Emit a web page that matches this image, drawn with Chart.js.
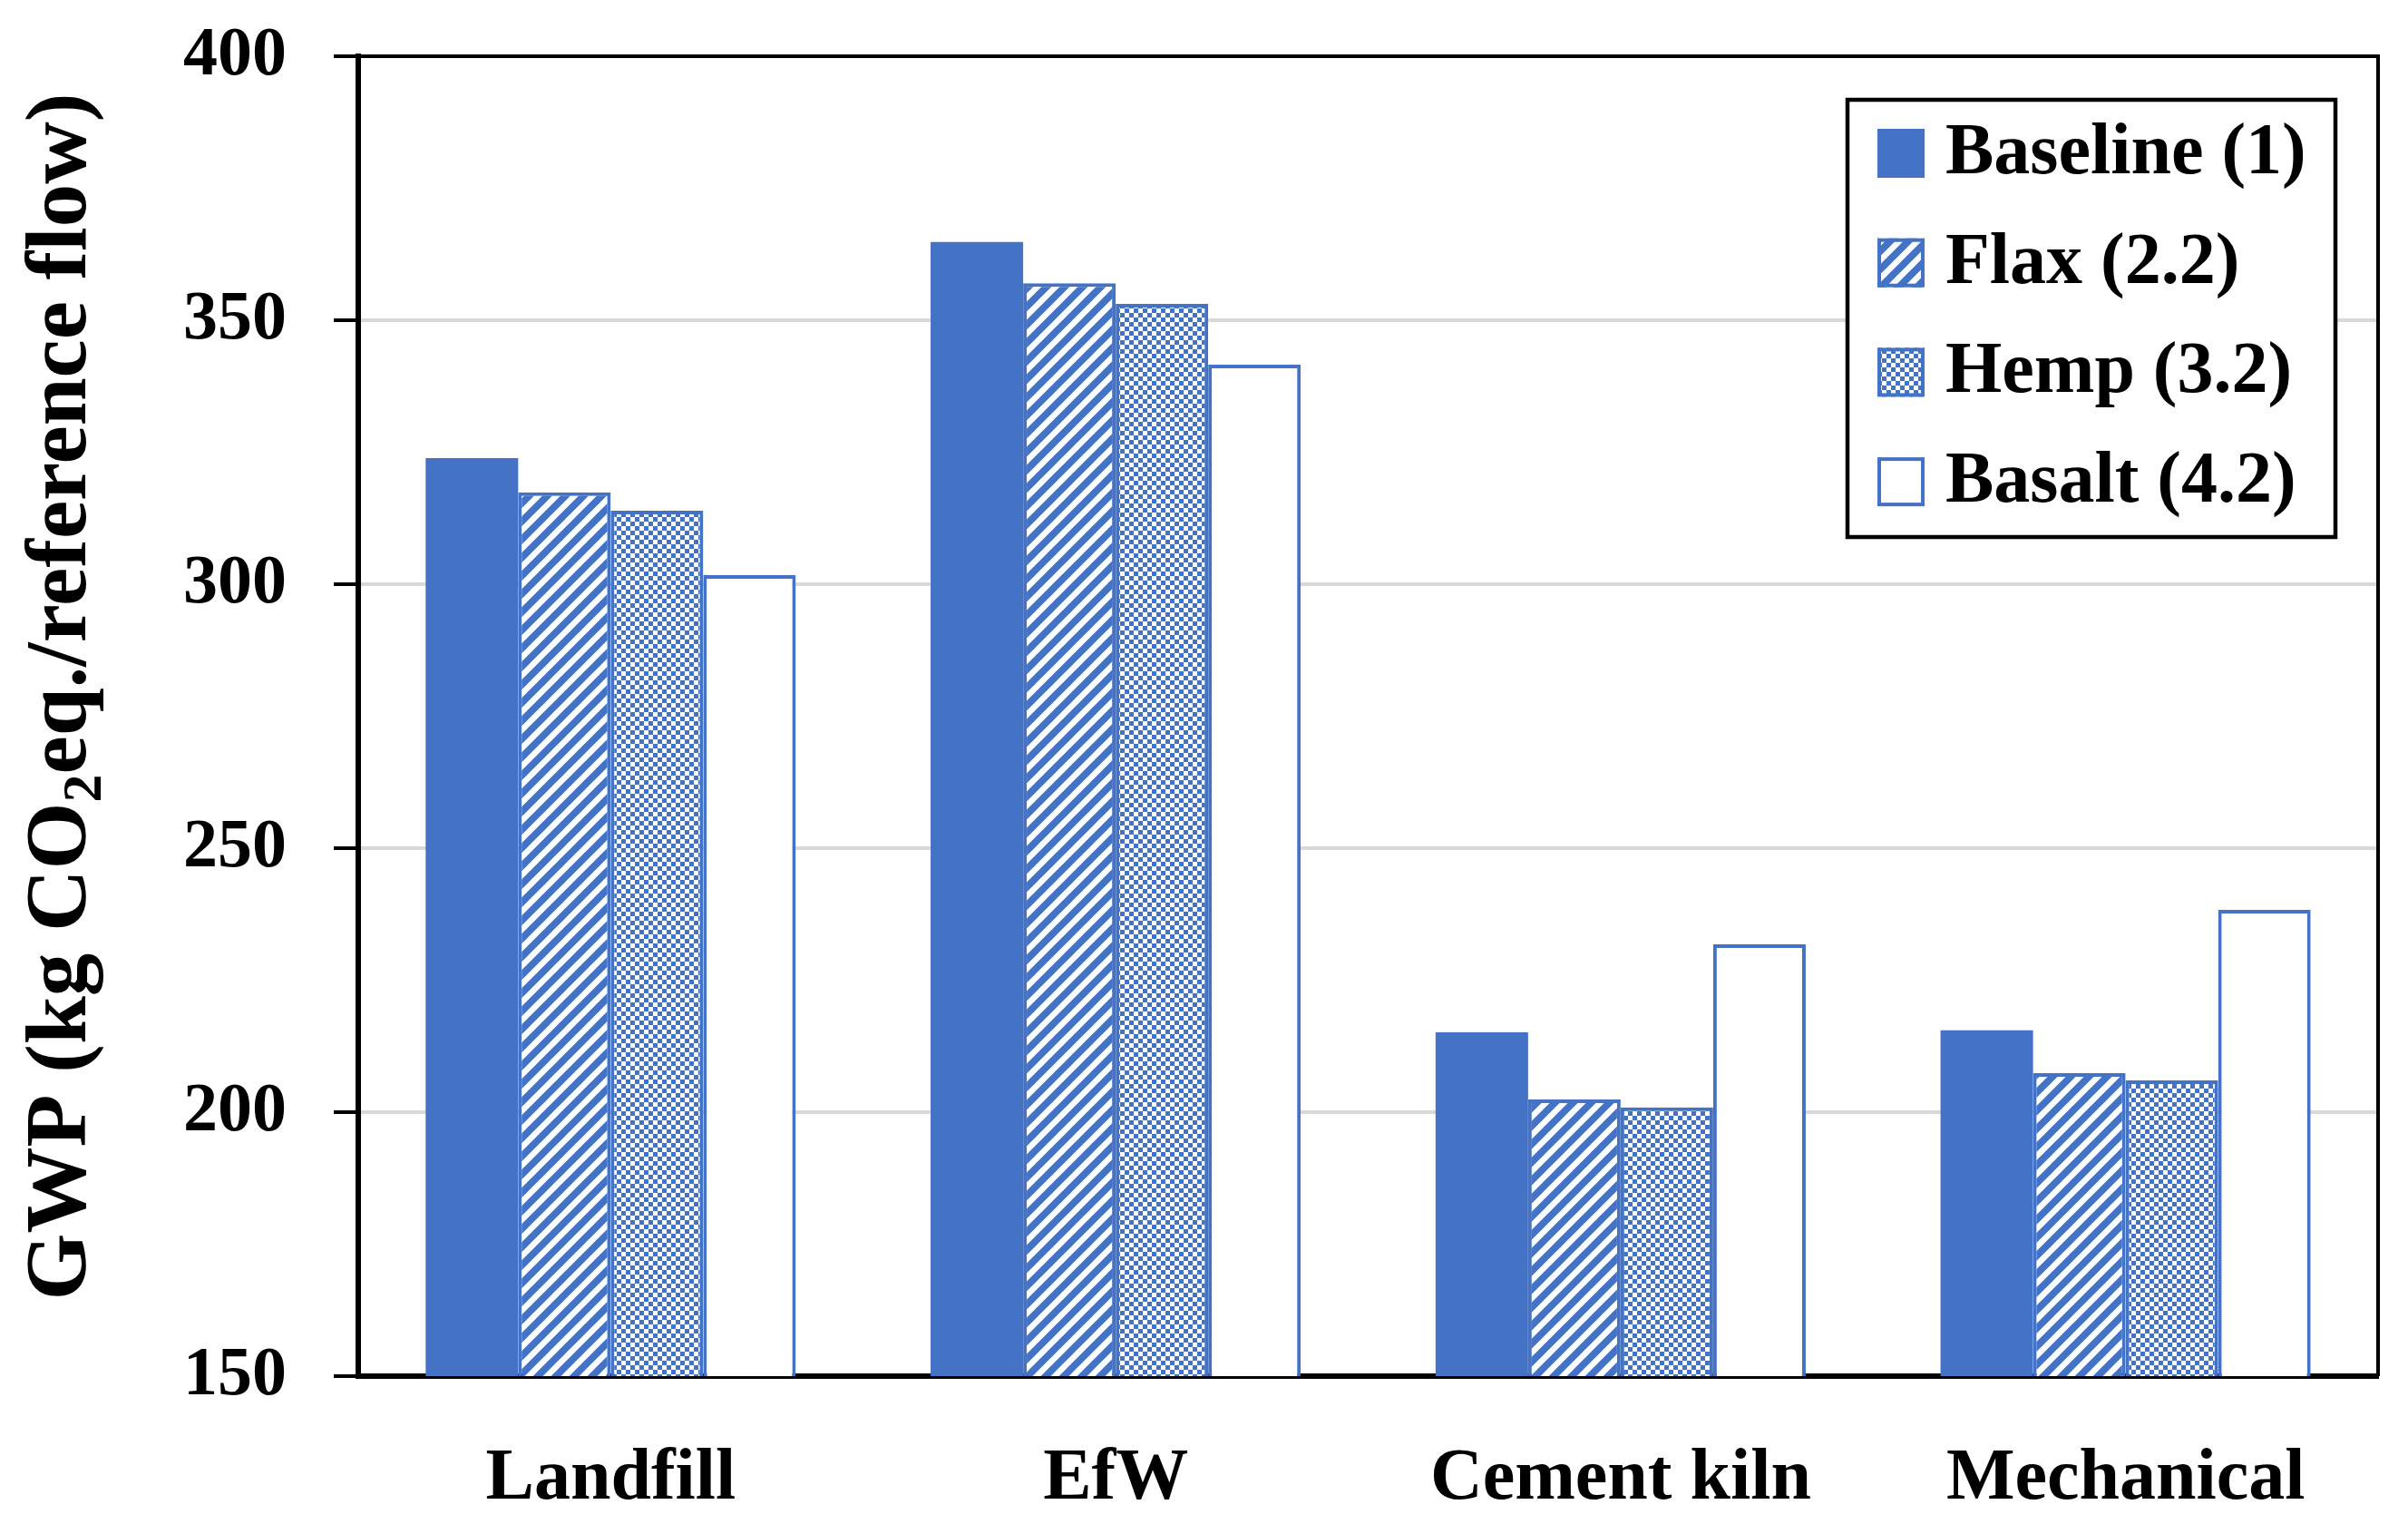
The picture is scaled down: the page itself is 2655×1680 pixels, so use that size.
<!DOCTYPE html>
<html>
<head>
<meta charset="utf-8">
<script src="https://cdn.jsdelivr.net/npm/chart.js@4.4.1/dist/chart.umd.min.js"></script>
<style>
    body { margin: 0; background: #fff; }
    #wrap { width: 2655px; height: 1680px; }
</style>
</head>
<body>
<div id="wrap"><canvas id="gwpChart" width="2655" height="1680"></canvas></div>
<script>
const categories = ['Landfill', 'EfW', 'Cement kiln', 'Mechanical'];
const seriesNames = ['Baseline (1)', 'Flax (2.2)', 'Hemp (3.2)', 'Basalt (4.2)'];
const baseline = [323.9, 364.8, 215.1, 215.5];
const flax = [317.4, 357.0, 202.4, 207.4];
const hemp = [313.9, 353.1, 200.9, 206.0];
const basalt = [301.7, 341.6, 231.8, 238.3];
const yMin = 150, yMax = 400, yStep = 50;

const blue = '#4472C4';
const fontName = '"Liberation Serif", "Times New Roman", serif';

// "/" stripes like excel wide upward diagonal
function stripePattern() {
    const s = 20;
    const c = document.createElement('canvas');
    c.width = s; c.height = s;
    const g = c.getContext('2d');
    g.fillStyle = blue;
    g.fillRect(0, 0, s, s);
    g.strokeStyle = '#fff';
    g.lineWidth = 6.5;
    for (let k = -1; k <= 1; k++) {
        g.beginPath();
        g.moveTo(k * s - 2, s + 2);
        g.lineTo(k * s + s + 2, -2);
        g.stroke();
    }
    return g.createPattern(c, 'repeat');
}

function checkerPattern() {
    const c = document.createElement('canvas');
    c.width = 10; c.height = 10;
    const g = c.getContext('2d');
    g.fillStyle = '#fff';
    g.fillRect(0, 0, 10, 10);
    g.fillStyle = blue;
    g.fillRect(0, 0, 5, 5);
    g.fillRect(5, 5, 5, 5);
    return g.createPattern(c, 'repeat');
}

const fills = [blue, stripePattern(), checkerPattern(), '#ffffff'];

// frame (top + right) and rotated y title with subscript
const framePlugin = {
    id: 'framePlugin',
    afterDraw(chart) {
        const ctx = chart.ctx;
        const a = chart.chartArea;
        ctx.save();
        ctx.strokeStyle = '#000';
        ctx.lineWidth = 4;
        ctx.beginPath();
        ctx.moveTo(a.left, a.top);
        ctx.lineTo(a.right, a.top);
        ctx.lineTo(a.right, a.bottom);
        ctx.stroke();

        // y axis title
        const big = 'bold 95px ' + fontName;
        const small = 'bold 62px ' + fontName;
        const p1 = 'GWP (kg CO', p2 = '2', p3 = 'eq./reference flow)';
        ctx.font = big;
        const w1 = ctx.measureText(p1).width;
        const w3 = ctx.measureText(p3).width;
        ctx.font = small;
        const w2 = ctx.measureText(p2).width;
        const total = w1 + w2 + w3;
        ctx.translate(94, 768);
        ctx.rotate(-Math.PI / 2);
        ctx.fillStyle = '#000';
        ctx.textBaseline = 'alphabetic';
        ctx.textAlign = 'left';
        let x = -total / 2;
        ctx.font = big;
        ctx.fillText(p1, x, 0);
        x += w1;
        ctx.font = small;
        ctx.fillText(p2, x, 17);
        x += w2;
        ctx.font = big;
        ctx.fillText(p3, x, 0);
        ctx.restore();
    }
};

// boxed legend inside the plot
const legendPlugin = {
    id: 'boxLegend',
    afterDraw(chart) {
        const ctx = chart.ctx;
        const left = 2037, top = 110, right = 2575, bottom = 592;
        ctx.save();
        ctx.fillStyle = '#fff';
        ctx.fillRect(left, top, right - left, bottom - top);
        ctx.strokeStyle = '#000';
        ctx.lineWidth = 4.5;
        ctx.strokeRect(left, top, right - left, bottom - top);
        chart.data.datasets.forEach(function (ds, i) {
            const cy = 169 + i * 120.7;
            ctx.fillStyle = ds.backgroundColor;
            ctx.fillRect(2070, cy - 27, 52, 54);
            ctx.strokeStyle = blue;
            ctx.lineWidth = 4;
            if (i > 0) ctx.strokeRect(2072, cy - 25, 48, 50);
            ctx.fillStyle = '#000';
            ctx.font = 'bold 80px ' + fontName;
            ctx.textBaseline = 'alphabetic';
            ctx.fillText(ds.label, 2145, cy + 22);
        });
        ctx.restore();
    }
};

const ctx = document.getElementById('gwpChart').getContext('2d');
const gwpChart = new Chart(ctx, {
    type: 'bar',
    data: {
        labels: categories,
        datasets: [baseline, flax, hemp, basalt].map(function (vals, i) {
            return {
                label: seriesNames[i],
                data: vals,
                backgroundColor: fills[i],
                borderColor: blue,
                borderWidth: i === 0 ? 0 : 4,
                borderSkipped: 'bottom',
                categoryPercentage: 0.733,
                barPercentage: 1.0
            };
        })
    },
    options: {
        responsive: false,
        animation: false,
        devicePixelRatio: 1,
        layout: { padding: { top: 62, right: 33, left: 0, bottom: 0 } },
        plugins: {
            legend: { display: false },
            tooltip: { enabled: false }
        },
        scales: {
            x: {
                grid: { display: false, drawTicks: false },
                border: { display: true, color: '#000', width: 6 },
                ticks: {
                    color: '#000',
                    padding: 66,
                    font: { family: fontName, size: 80, weight: 'bold' }
                },
                afterFit: function (scale) {
                    scale.height = 163;
                    scale.paddingLeft = 0;
                    scale.paddingRight = 0;
                }
            },
            y: {
                min: yMin,
                max: yMax,
                grid: {
                    color: '#D9D9D9',
                    lineWidth: 4,
                    tickColor: '#000',
                    tickWidth: 4,
                    tickLength: 27
                },
                border: { display: true, color: '#000', width: 6 },
                ticks: {
                    stepSize: yStep,
                    color: '#000',
                    padding: 52,
                    font: { family: fontName, size: 76, weight: 'bold' }
                },
                afterFit: function (scale) {
                    scale.width = 395;
                    scale.paddingTop = 0;
                    scale.paddingBottom = 0;
                }
            }
        }
    },
    plugins: [framePlugin, legendPlugin]
});
</script>
</body>
</html>
